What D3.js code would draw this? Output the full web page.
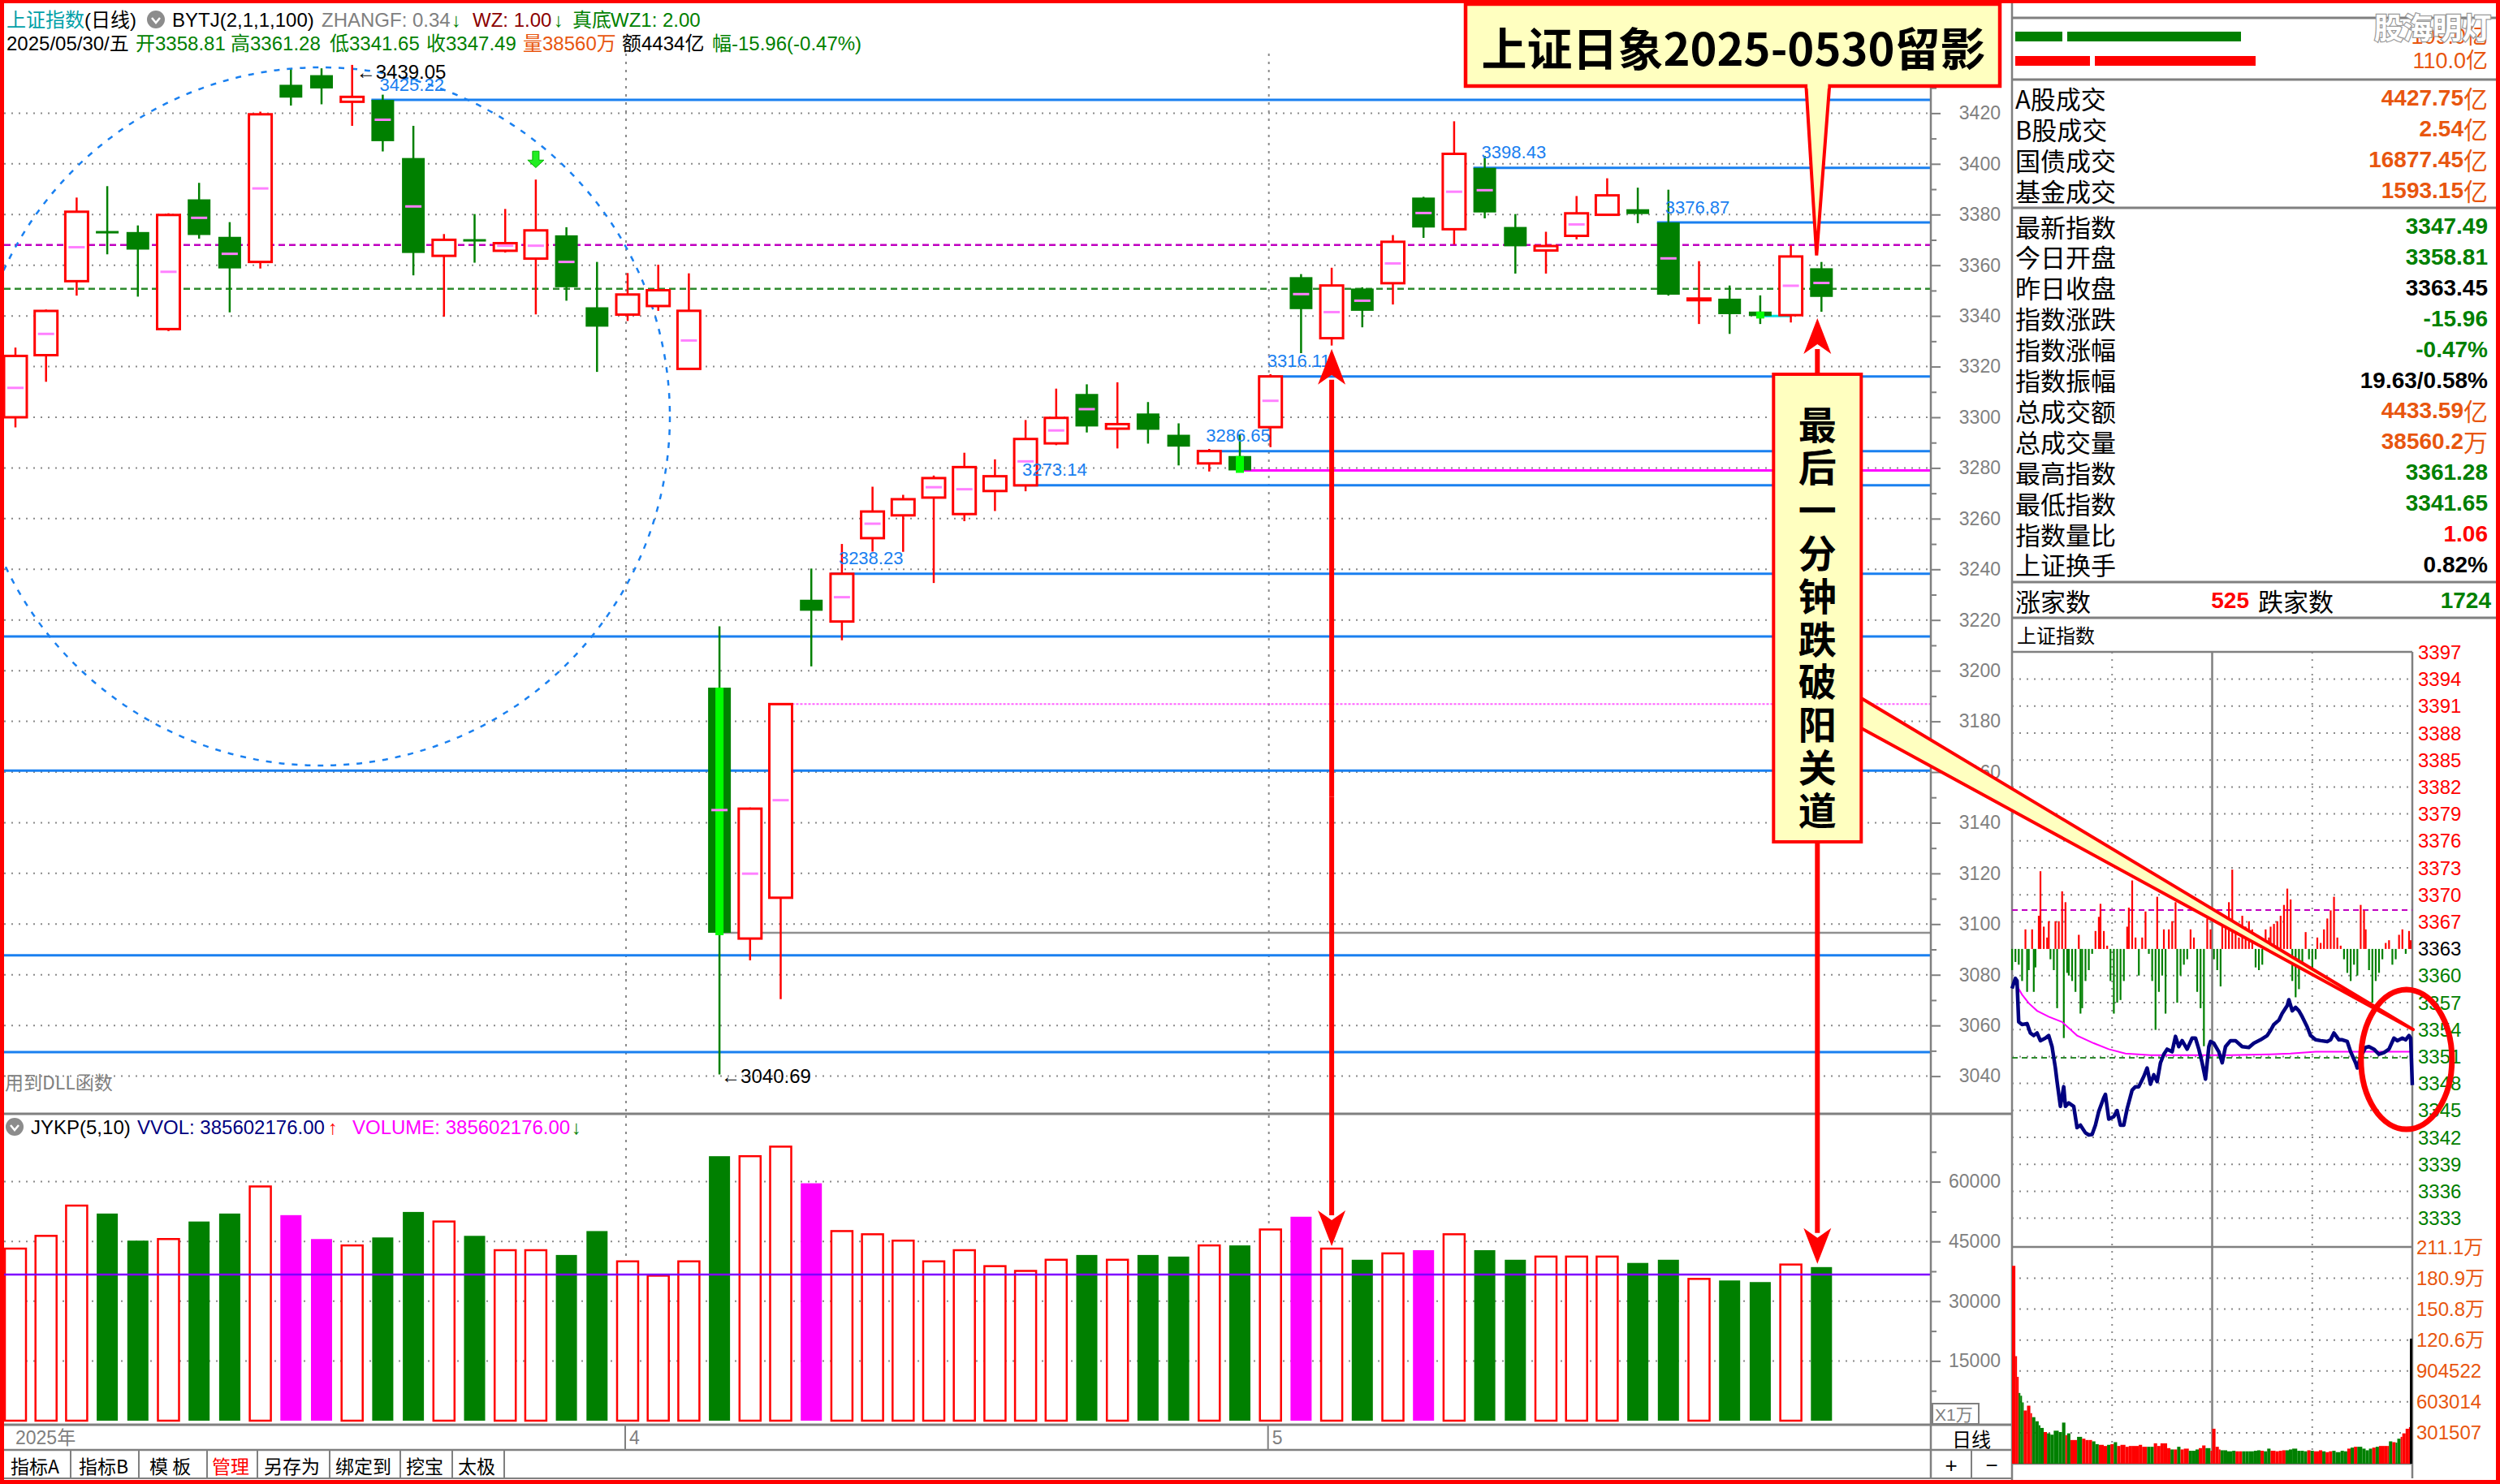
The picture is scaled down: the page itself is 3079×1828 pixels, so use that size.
<!DOCTYPE html>
<html><head><meta charset="utf-8">
<script src="https://cdn.jsdelivr.net/npm/d3@7/dist/d3.min.js"></script>
<style>html,body{margin:0;padding:0;background:#fff;overflow:hidden}svg{display:block}</style>
</head><body>
<svg id="chart" width="3079" height="1828" xmlns="http://www.w3.org/2000/svg"></svg>
<script>
// ================= DATA =================
const dates = ["03-04","03-05","03-06","03-07","03-10","03-11","03-12","03-13","03-14","03-17","03-18","03-19","03-20","03-21","03-24","03-25","03-26","03-27","03-28","03-31",
"04-01","04-02","04-03","04-07","04-08","04-09","04-10","04-11","04-14","04-15","04-16","04-17","04-18","04-21","04-22","04-23","04-24","04-25","04-28","04-29","04-30",
"05-06","05-07","05-08","05-09","05-12","05-13","05-14","05-15","05-16","05-19","05-20","05-21","05-22","05-23","05-26","05-27","05-28","05-29","05-30"];
const open  = [3300.0,3324.5,3353.7,3373.5,3373.1,3334.8,3386.0,3371.2,3361.3,3431.2,3435.0,3424.5,3425.22,3402.3,3363.7,3370.3,3365.7,3362.6,3371.8,3343.4,
3340.5,3343.9,3319.1,3193.3,3094.3,3110.4,3228.0,3219.4,3252.3,3261.3,3268.3,3261.8,3270.9,3273.14,3289.7,3309.2,3295.5,3301.5,3293.1,3281.8,3284.7,
3296.1,3355.3,3331.2,3350.8,3352.9,3386.7,3374.2,3398.43,3375.1,3365.8,3371.6,3379.9,3382.1,3376.87,3346.5,3346.8,3341.7,3340.3,3358.81];
const high  = [3327.5,3342.5,3386.7,3391.2,3375.7,3380.5,3392.5,3377.0,3420.6,3437.2,3437.7,3439.05,3427.3,3415.0,3372.3,3380.2,3382.2,3393.8,3375.0,3361.3,
3356.9,3360.2,3356.8,3217.5,3146.0,3187.0,3240.3,3250.0,3272.6,3269.4,3277.0,3286.0,3283.4,3298.9,3311.3,3313.0,3313.8,3306.0,3297.6,3287.5,3293.3,
3317.0,3356.5,3359.0,3351.3,3371.9,3387.0,3416.8,3403.1,3380.2,3373.2,3387.3,3394.3,3390.6,3389.8,3361.6,3352.0,3348.1,3367.8,3361.28];
const low   = [3296.0,3314.0,3348.0,3364.3,3347.6,3334.0,3370.5,3341.4,3358.7,3423.0,3423.5,3415.0,3404.9,3356.0,3339.7,3361.0,3365.0,3340.6,3346.0,3317.9,
3338.0,3342.0,3319.0,3040.69,3085.7,3070.4,3201.7,3212.0,3247.0,3246.9,3234.6,3259.0,3263.0,3270.8,3289.0,3294.0,3287.7,3289.6,3281.0,3278.6,3278.6,
3288.2,3325.3,3328.3,3335.5,3344.5,3370.8,3368.2,3378.5,3356.7,3356.7,3370.2,3379.9,3376.6,3348.0,3336.8,3332.9,3336.8,3337.4,3341.65];
const close = [3324.21,3341.96,3381.10,3372.55,3366.16,3379.83,3371.92,3358.73,3419.56,3426.13,3429.76,3426.43,3408.95,3364.83,3370.03,3369.98,3368.70,3373.75,3351.31,3335.75,
3348.44,3350.13,3342.01,3096.58,3145.55,3186.81,3223.64,3238.23,3262.81,3267.66,3276.00,3280.34,3276.73,3291.43,3299.76,3296.36,3297.29,3295.06,3288.41,3286.65,3279.03,
3316.11,3342.67,3352.00,3342.00,3369.24,3374.87,3403.95,3380.82,3367.46,3367.58,3380.48,3387.57,3380.19,3348.37,3346.84,3340.69,3339.93,3363.45,3347.49];
// volume, unit: 万 (x1万)
const volume = [43200,46400,54000,52000,45200,45600,50000,52000,58800,51600,45600,44000,46000,52400,50000,46400,42800,42800,41600,47600,
40000,36400,40000,66400,66400,68800,59600,47600,46800,45200,40000,42800,38800,37600,40400,41600,40400,41600,41200,44000,44000,
48000,51200,43200,40400,42000,42800,46800,42800,40400,41200,41200,41200,39600,40400,35600,35200,34800,39200,38560];
// average-price marks (null = not shown)
const avgPrice = [3311.6,3332.9,3367.1,null,null,3357.4,3378.7,3364.5,3390.3,null,null,null,3417.4,3383.2,null,null,3367.7,3367.7,3361.3,null,
null,null,3330.3,3145.0,3119.9,3148.9,null,3229.0,3258.0,null,3272.4,3271.6,null,3282.6,3294.8,3303.2,null,null,null,null,null,
3306.5,3348.6,3341.5,3346.0,3360.7,3380.6,3389.0,3389.6,null,null,3376.1,null,null,3362.7,null,null,null,3351.9,3353.0];
const volHighlight = [9,10,26,42,46];
const brightBody = [23,40,57];
const priceTicks = [3040,3060,3080,3100,3120,3140,3160,3180,3200,3220,3240,3260,3280,3300,3320,3340,3360,3380,3400,3420];
const volTicks = [15000,30000,45000,60000];
const monthStarts = [20,41];
const monthLabels = ["4","5"];
const supportLevels = [3425.22,3398.43,3376.87,3316.11,3286.65,3273.14,3238.23];
const supportFrom   = [12,48,54,41,39,33,27];
const bandLevels = [3213.5,3160.6,3087.7,3049.5];
const pivotHigh = 3368.0, pivotLow = 3350.7;
const volumeRefLine = 36700;

// intraday (minute, price)
const intradayLine = [[0,3358.81],[2,3360.0],[3,3359.7],[4,3354.9],[6,3354.6],[9,3354.7],[11,3353.6],[13,3353.3],[15,3353.6],[17,3352.7],[20,3353.0],[22,3353.3],[24,3352.0],[26,3349.5],[27,3347.9],[29,3345.0],[31,3347.3],[32,3345.0],[34,3345.4],[37,3345.0],[39,3342.5],[41,3342.8],[44,3341.9],[46,3341.65],[48,3341.7],[50,3342.8],[52,3344.4],[55,3346.0],[56,3346.4],[58,3343.5],[61,3343.8],[63,3344.5],[65,3342.8],[67,3342.8],[69,3344.7],[72,3346.9],[74,3347.3],[76,3347.3],[79,3348.5],[81,3349.5],[83,3347.6],[85,3348.7],[87,3347.9],[89,3350.1],[91,3351.1],[93,3351.7],[96,3351.4],[98,3353.2],[100,3352.0],[102,3352.7],[105,3351.7],[108,3353.0],[110,3353.0],[112,3351.7],[114,3350.1],[116,3348.2],[118,3352.0],[119,3352.6],[121,3352.4],[124,3351.4],[126,3350.1],[128,3352.0],[131,3352.7],[134,3352.7],[138,3352.0],[142,3351.9],[145,3352.4],[149,3352.8],[153,3353.3],[155,3353.9],[157,3354.6],[160,3355.1],[162,3355.9],[165,3356.8],[166,3357.5],[168,3356.2],[170,3356.6],[172,3356.2],[174,3355.5],[177,3354.3],[179,3353.3],[182,3352.8],[185,3352.7],[189,3352.6],[191,3352.8],[193,3353.6],[196,3352.8],[198,3352.8],[201,3352.6],[203,3351.4],[206,3350.1],[207,3349.5],[209,3350.8],[212,3351.9],[214,3352.0],[217,3351.7],[220,3351.1],[223,3351.3],[226,3351.7],[229,3353.0],[231,3352.7],[234,3353.0],[236,3352.8],[238,3353.3],[239,3353.0],[240,3347.49]];
const intradayAvg = [[3,3359.1],[6,3358.1],[10,3357.1],[15,3356.2],[22,3355.5],[30,3354.9],[39,3353.3],[49,3352.4],[58,3351.7],[68,3351.2],[83,3351.0],[107,3351.0],[131,3351.0],[155,3351.1],[167,3351.2],[182,3351.4],[203,3351.4],[227,3351.4],[240,3351.4]];
const prevClose = 3363.45;
const intradayTickLabels = ["3397","3394","3391","3388","3385","3382","3379","3376","3373","3370","3367","3363","3360","3357","3354","3351","3348","3345","3342","3339","3336","3333"];
// breadth bars (minute, signed strength)
const breadth = [[0,-39],[2,-24],[4,-29],[6,-59],[8,36],[9,-79],[10,-39],[12,36],[13,-79],[14,-34],[16,61],[17,143],[19,41],[21,21],[22,51],[23,-19],[25,-39],[26,51],[27,-109],[28,51],[30,106],[31,-164],[32,86],[33,-44],[34,-49],[36,-59],[38,-79],[40,26],[41,-119],[42,-109],[44,-59],[46,-39],[48,-9],[50,33],[52,59],[53,83],[55,33],[57,6],[59,-59],[61,-119],[63,-99],[65,-94],[67,-59],[69,41],[70,76],[72,126],[74,21],[76,-49],[78,21],[80,69],[82,-9],[84,-59],[86,-149],[87,96],[88,-79],[90,-49],[91,36],[92,-119],[94,36],[96,51],[98,86],[99,-99],[101,-49],[103,-29],[105,-19],[107,36],[109,21],[111,-79],[113,-109],[115,-179],[117,56],[119,36],[121,-19],[123,-39],[125,-69],[126,61],[128,46],[130,86],[132,146],[134,41],[136,21],[138,61],[140,41],[142,51],[144,36],[146,-34],[148,-39],[150,-29],[152,36],[154,21],[155,41],[157,46],[159,51],[161,61],[163,81],[165,111],[167,91],[168,-59],[170,-89],[172,-74],[174,-39],[176,31],[178,-19],[180,-39],[182,-19],[183,21],[185,11],[187,36],[189,56],[191,71],[193,96],[195,21],[197,6],[199,-19],[201,-44],[203,-59],[205,-29],[207,-49],[209,81],[211,71],[212,36],[214,-39],[216,-99],[218,-59],[220,-44],[222,-19],[224,11],[226,16],[228,-29],[230,-19],[232,26],[234,36],[236,-9],[238,33],[239,16]];
// intraday volume (minute, 万) and direction
const intradayVol = [[0,193],[2,104.9],[3,84.7],[4,69],[5,66.3],[6,59.8],[7,51.9],[9,56.6],[11,49.3],[12,45.4],[14,41.4],[16,37.5],[17,34.9],[19,30.9],[21,29.6],[23,28.3],[25,32.2],[28,30.9],[30,40.1],[32,27.8],[33,29.6],[35,23.1],[37,23.1],[39,26.2],[42,24.4],[44,23.1],[46,23.1],[48,21.8],[50,19.1],[52,18.4],[55,17.3],[57,18.4],[59,19.1],[61,21],[63,17.3],[65,18.4],[68,16.5],[70,17.3],[72,17.3],[74,17.3],[76,18.4],[78,16.5],[81,16.5],[83,16.5],[85,19.9],[87,17.3],[89,19.9],[91,19.9],[93,15.2],[95,13.9],[97,13.9],[99,16.5],[101,13.9],[103,14.7],[106,12.6],[108,12.6],[110,13.9],[112,15.2],[114,17.8],[116,15.2],[119,12.6],[120,34.1],[122,16.5],[124,13.9],[125,13.1],[127,13.1],[129,12.1],[132,12.6],[134,12.1],[136,12.1],[138,12.1],[140,12.1],[142,12.1],[145,12.6],[147,13.1],[149,12.6],[151,12.1],[153,14.7],[155,12.6],[158,12.1],[160,12.6],[162,13.1],[164,13.1],[166,13.9],[168,14.7],[171,12.6],[173,12.6],[175,12.1],[177,13.1],[179,12.6],[181,12.1],[184,13.1],[186,12.1],[188,11.3],[190,12.1],[192,12.6],[194,11.3],[197,12.6],[199,12.1],[201,14.7],[203,15.7],[205,16.5],[207,16.5],[210,14.7],[212,13.1],[214,14.7],[216,15.7],[218,16.5],[220,17.3],[223,17.3],[225,17.3],[226,21.8],[228,21],[230,20.5],[231,24.4],[233,26.2],[234,29.6],[236,34.1],[238,35.7],[239,4.7]];
const intradayVolDir = "rrrgggrrrggggrgggggrgrrgrrrggrrgrgrrrrrrrrggrrrrrgrgrrgggrrgrrrrggggrrgggggrggrrrrggggggrgrrgrrggggrgrggggrgrrrgrgg" + "r";
const closingAuctionVol = 122;
const intradayVolTicks = [211.1,180.9,150.8,120.6,90.4522,60.3014,30.1507];
const intradayVolTickLabels = ["211.1万","180.9万","150.8万","120.6万","904522","603014","301507"];

const statLabels1 = ["A股成交","B股成交","国债成交","基金成交"];
const statValues1 = ["4427.75亿","2.54亿","16877.45亿","1593.15亿"];
const statLabels2 = ["最新指数","今日开盘","昨日收盘","指数涨跌","指数涨幅","指数振幅","总成交额","总成交量","最高指数","最低指数","指数量比","上证换手"];
const statValues2 = ["3347.49","3358.81","3363.45","-15.96","-0.47%","19.63/0.58%","4433.59亿","38560.2万","3361.28","3341.65","1.06","0.82%"];
const upCount = "525", downCount = "1724";

// ================= DRAW =================
const svg = d3.select('#chart');
const SANS = "'Liberation Sans', Arial, 'Noto Sans CJK SC', sans-serif";
const CJK = "'Noto Sans CJK SC', 'Liberation Sans', sans-serif";
const RED='#ff0000', GREEN='#008000', MAG='#ff00ff', BLUE='#1a80f0', GRAY='#808080', ORANGE='#e8560f', YEL='#ffffc0';
const AX = 2378, PR = 2478, RB = 3074;

svg.append('rect').attr('width',3079).attr('height',1828).attr('fill','#fff');
const defs = svg.append('defs');
defs.append('clipPath').attr('id','clipMain').append('rect').attr('x',5).attr('y',66).attr('width',AX-5).attr('height',1371-66);
defs.append('clipPath').attr('id','clipVol').append('rect').attr('x',5).attr('y',1374).attr('width',AX-5).attr('height',1754-1374);

const x = d3.scalePoint().domain(dates).range([19, 19+59*37.7]);
const y = d3.scaleLinear().domain([3040,3420]).range([1325.6,139.4]);
const yv = d3.scaleLinear().domain([0,60000]).range([1750,1455.6]);
const BW = 28;
const ohlc = dates.map((d,i)=>({d,i,o:open[i],h:high[i],l:low[i],c:close[i],v:volume[i],a:avgPrice[i]}));
const isUp = d=>d.c>=d.o;

function hline(g, y0, x0, x1, color, w, dash){
  const l = g.append('line').attr('x1',x0).attr('x2',x1).attr('y1',y0).attr('y2',y0).attr('stroke',color).attr('stroke-width',w);
  if(dash) l.attr('stroke-dasharray',dash);
  return l;
}
function vline(g, x0, y0, y1, color, w, dash){
  const l = g.append('line').attr('x1',x0).attr('x2',x0).attr('y1',y0).attr('y2',y1).attr('stroke',color).attr('stroke-width',w);
  if(dash) l.attr('stroke-dasharray',dash);
  return l;
}
function txt(g, s, x0, y0, size, color, family, anchor, weight){
  return g.append('text').attr('x',x0).attr('y',y0).attr('font-size',size).attr('fill',color)
    .attr('font-family',family||SANS).attr('text-anchor',anchor||'start').attr('dominant-baseline','central')
    .attr('font-weight',weight||'normal').text(s);
}

// ---- main price panel ----
const gMain = svg.append('g').attr('clip-path','url(#clipMain)');
gMain.selectAll('line.grid').data(priceTicks).join('line').attr('class','grid')
  .attr('x1',5).attr('x2',AX).attr('y1',d=>y(d)).attr('y2',d=>y(d))
  .attr('stroke','#8a8a8a').attr('stroke-width',2).attr('stroke-dasharray','2,7');
monthStarts.forEach(i=>vline(gMain, x(dates[i])-2, 66, 1371, '#8a8a8a', 2, '3,7'));
hline(gMain, y(pivotHigh), 5, AX, '#c000c0', 2.5, '8,5');
hline(gMain, y(pivotLow), 5, AX, '#2e8b2e', 2.5, '8,5');
bandLevels.forEach(v=>hline(gMain, y(v), 5, AX, BLUE, 3));
supportLevels.forEach((v,k)=>hline(gMain, y(v), x(dates[supportFrom[k]])-BW/2, AX, BLUE, 3));
hline(gMain, y(close[40]), x(dates[40]), AX, MAG, 3);
hline(gMain, y(close[25]), x(dates[25])+BW/2, AX, '#ff60ff', 2, '3,2');
hline(gMain, y(close[23]), x(dates[23]), AX, '#909090', 2.5);
hline(gMain, y(close[57]), x(dates[57]), x(dates[58]), '#00e0e0', 3);
// dashed circle
gMain.append('ellipse').attr('cx',395).attr('cy',513).attr('rx',430).attr('ry',430)
  .attr('fill','none').attr('stroke',BLUE).attr('stroke-width',2.5).attr('stroke-dasharray','7,9');

// candles
const gC = gMain.append('g');
gC.selectAll('line.wick').data(ohlc).join('line').attr('class','wick')
  .attr('x1',d=>x(d.d)).attr('x2',d=>x(d.d)).attr('y1',d=>y(d.h)).attr('y2',d=>y(d.l))
  .attr('stroke',d=>isUp(d)?RED:GREEN).attr('stroke-width',2.5);
gC.selectAll('rect.body').data(ohlc).join('rect').attr('class','body')
  .attr('x',d=>x(d.d)-BW/2).attr('width',BW)
  .attr('y',d=>y(Math.max(d.o,d.c))).attr('height',d=>Math.max(isUp(d)?2:3, Math.abs(y(d.o)-y(d.c))))
  .attr('fill',d=>isUp(d)?'#fff':GREEN).attr('stroke',d=>isUp(d)?RED:GREEN).attr('stroke-width',d=>isUp(d)?3:0);
gC.selectAll('rect.bright').data(ohlc.filter(d=>brightBody.includes(d.i))).join('rect').attr('class','bright')
  .attr('x',d=>x(d.d)-5).attr('width',10)
  .attr('y',d=>y(Math.max(d.o,d.c))).attr('height',d=>Math.abs(y(d.o)-y(d.c))+3).attr('fill','#00ff00');
gC.selectAll('line.avg').data(ohlc.filter(d=>d.a!=null)).join('line').attr('class','avg')
  .attr('x1',d=>x(d.d)-10).attr('x2',d=>x(d.d)+10).attr('y1',d=>y(d.a)).attr('y2',d=>y(d.a))
  .attr('stroke','#ff80ff').attr('stroke-width',3);
// support labels drawn above candles
supportLevels.forEach((v,k)=>txt(gMain, v.toFixed(2), x(dates[supportFrom[k]])-4, y(v)-19, 22, BLUE));
// high/low labels
txt(gMain, '←3439.05', x(dates[11])+5, y(high[11])+9, 24, '#000');
txt(gMain, '←3040.69', x(dates[23])+2, y(low[23])+2, 24, '#000');
// green down arrow marker
(function(){
  const cx = x(dates[17]), top = y(3405), bot = y(3398.5);
  gMain.append('path').attr('d',`M${cx-4},${top} L${cx+4},${top} L${cx+4},${top+11} L${cx+10},${top+11} L${cx},${bot} L${cx-10},${top+11} L${cx-4},${top+11} Z`)
    .attr('fill','#22ee22').attr('stroke','#00b000').attr('stroke-width',1);
})();
txt(svg, '用到DLL函数', 6, 1332, 23, GRAY, CJK);

// ---- volume panel ----
const gVol = svg.append('g').attr('clip-path','url(#clipVol)');
gVol.selectAll('line.vgrid').data(volTicks).join('line').attr('class','vgrid')
  .attr('x1',5).attr('x2',AX).attr('y1',d=>yv(d)).attr('y2',d=>yv(d))
  .attr('stroke','#8a8a8a').attr('stroke-width',2).attr('stroke-dasharray','2,7');
monthStarts.forEach(i=>vline(gVol, x(dates[i])-2, 1374, 1754, '#8a8a8a', 2, '3,7'));
gVol.selectAll('rect.vbar').data(ohlc).join('rect').attr('class','vbar')
  .attr('x',d=>x(d.d)-BW/2+1).attr('width',BW-2)
  .attr('y',d=>yv(d.v)).attr('height',d=>yv(0)-yv(d.v))
  .attr('fill',d=>volHighlight.includes(d.i)?MAG:(isUp(d)?'#fff':GREEN))
  .attr('stroke',d=>volHighlight.includes(d.i)?MAG:(isUp(d)?RED:GREEN))
  .attr('stroke-width',d=>isUp(d)&&!volHighlight.includes(d.i)?2.5:0);
hline(gVol, yv(volumeRefLine), 5, AX, '#8000ff', 2.5);

// panel header texts
function icon(g, cx, cy){
  g.append('circle').attr('cx',cx).attr('cy',cy).attr('r',11).attr('fill','#8c8c8c');
  g.append('path').attr('d',`M${cx-5},${cy-2} L${cx},${cy+4} L${cx+5},${cy-2}`).attr('fill','none').attr('stroke','#fff').attr('stroke-width',2.5);
}
const head1 = [['上证指数','#00a0a8',8],['(日线)','#000',104],['BYTJ(2,1,1,100)','#000',212],['ZHANGF: 0.34','#808080',396],['↓',GREEN,556],['WZ: 1.00','#8b0000',582],['↓',GREEN,682],['真底',GREEN,705],['WZ1: 2.00',GREEN,752]];
head1.forEach(h=>txt(svg, h[0], h[2], 24, 24, h[1]));
icon(svg, 192, 24);
const head2 = [['2025/05/30/五','#000',8],['开3358.81',GREEN,167],['高3361.28',GREEN,284],['低3341.65',GREEN,406],['收3347.49',GREEN,525],['量38560万',ORANGE,644],['额4434亿','#000',766],['幅-15.96(-0.47%)',GREEN,877]];
head2.forEach(h=>txt(svg, h[0], h[2], 53, 24, h[1]));
icon(svg, 18, 1388);
const head3 = [['JYKP(5,10)','#000',38],['VVOL: 385602176.00','#000080',169],['↑',RED,404],['VOLUME: 385602176.00',MAG,434],['↓',GREEN,704]];
head3.forEach(h=>txt(svg, h[0], h[2], 1388, 24, h[1]));

// ---- axes ----
const gAx = svg.append('g').attr('transform',`translate(${AX},0)`)
  .call(d3.axisRight(y).tickValues(priceTicks).tickSize(12).tickPadding(4).tickFormat(d3.format('d')));
gAx.select('.domain').remove();
gAx.selectAll('line').attr('stroke',GRAY).attr('stroke-width',2);
gAx.selectAll('text').attr('x',86).attr('text-anchor','end').attr('fill',GRAY).attr('font-size',23).attr('font-family',SANS);
const gAxm = svg.append('g').attr('transform',`translate(${AX},0)`)
  .call(d3.axisRight(y).tickValues(priceTicks.map(d=>d+10)).tickSize(7).tickFormat(''));
gAxm.select('.domain').remove(); gAxm.selectAll('line').attr('stroke',GRAY).attr('stroke-width',2);
const gVax = svg.append('g').attr('transform',`translate(${AX},0)`)
  .call(d3.axisRight(yv).tickValues(volTicks).tickSize(12).tickFormat(d3.format('d')));
gVax.select('.domain').remove();
gVax.selectAll('line').attr('stroke',GRAY).attr('stroke-width',2);
gVax.selectAll('text').attr('x',86).attr('text-anchor','end').attr('fill',GRAY).attr('font-size',23).attr('font-family',SANS);
const gVaxm = svg.append('g').attr('transform',`translate(${AX},0)`)
  .call(d3.axisRight(yv).tickValues([7500,22500,37500,52500,67500]).tickSize(7).tickFormat(''));
gVaxm.select('.domain').remove(); gVaxm.selectAll('line').attr('stroke',GRAY).attr('stroke-width',2);

// frame lines
vline(svg, AX, 100, 1822, GRAY, 2.5);
vline(svg, PR, 0, 1828, GRAY, 2.5);
hline(svg, 1372, 0, PR, GRAY, 3);
hline(svg, 1755, 0, PR, GRAY, 3);
hline(svg, 1786, 0, PR, GRAY, 2.5);
// X1万 box
svg.append('rect').attr('x',2380).attr('y',1729).attr('width',57).attr('height',25).attr('fill','none').attr('stroke',GRAY).attr('stroke-width',2);
txt(svg, 'X1万', 2383, 1742, 21, GRAY);
// date row
txt(svg, '2025年', 19, 1771, 23, GRAY);
monthStarts.forEach((i,k)=>{ vline(svg, x(dates[i])-3, 1756, 1786, GRAY, 2); txt(svg, monthLabels[k], x(dates[i])+2, 1771, 23, GRAY); });
txt(svg, '日线', 2428, 1771, 24, '#000', CJK, 'middle');
txt(svg, '+', 2403, 1805, 26, '#000', SANS, 'middle');
txt(svg, '−', 2453, 1805, 26, '#000', SANS, 'middle');
vline(svg, 2428, 1786, 1822, GRAY, 2);
// tabs
const tabs = [['指标A',13,'#000'],['指标B',97,'#000'],['模 板',184,'#000'],['管理',261,RED],['另存为',325,'#000'],['绑定到',413,'#000'],['挖宝',500,'#000'],['太极',564,'#000']];
tabs.forEach(t=>txt(svg, t[0], t[1], 1805, 23, t[2], CJK));
[87,171,255,317,406,493,557,621].forEach(xx=>vline(svg, xx, 1787, 1822, GRAY, 2));
hline(svg, 1821, 0, PR, GRAY, 2);

// ---- right info panel ----
const gR = svg.append('g');
[22,98,256,717,761].forEach(yy=>hline(gR, yy, PR, RB, GRAY, 3));
gR.append('rect').attr('x',2482).attr('y',39).attr('width',58).attr('height',12).attr('fill',GREEN);
gR.append('rect').attr('x',2546).attr('y',39).attr('width',214).attr('height',12).attr('fill',GREEN);
gR.append('rect').attr('x',2482).attr('y',69).attr('width',92).attr('height',12).attr('fill',RED);
gR.append('rect').attr('x',2580).attr('y',69).attr('width',198).attr('height',12).attr('fill',RED);
txt(gR, '109.0亿', 3064, 45, 27, ORANGE, SANS, 'end');
txt(gR, '110.0亿', 3064, 75, 27, ORANGE, SANS, 'end');
gR.append('text').attr('x',2996).attr('y',48).attr('text-anchor','middle').attr('font-size',36).attr('font-weight','bold')
  .attr('font-family',CJK).attr('fill','#fff').attr('stroke','#9a9a9a').attr('stroke-width',2.5).attr('paint-order','stroke').text('股海明灯');
function valueText(g, s, yy, color){
  const m = s.match(/^(.*?)([亿万]?)$/);
  const t = g.append('text').attr('x',3064).attr('y',yy).attr('text-anchor','end').attr('dominant-baseline','central').attr('fill',color).attr('font-size',28);
  t.append('tspan').attr('font-family',SANS).attr('font-weight','bold').text(m[1]);
  if(m[2]) t.append('tspan').attr('font-family',CJK).attr('font-size',30).text(m[2]);
}
statLabels1.forEach((s,k)=>{ txt(gR, s, 2482, 120+k*38, 31, '#000', CJK); valueText(gR, statValues1[k], 120+k*38, ORANGE); });
const c2 = [GREEN,GREEN,'#000',GREEN,GREEN,'#000',ORANGE,ORANGE,GREEN,GREEN,RED,'#000'];
statLabels2.forEach((s,k)=>{ txt(gR, s, 2482, 278+k*37.9, 31, '#000', CJK); valueText(gR, statValues2[k], 278+k*37.9, c2[k]); });
txt(gR, '涨家数', 2482, 739, 31, '#000', CJK);
txt(gR, upCount, 2770, 739, 28, RED, SANS, 'end', 'bold');
txt(gR, '跌家数', 2781, 739, 31, '#000', CJK);
txt(gR, downCount, 3068, 739, 28, GREEN, SANS, 'end', 'bold');
txt(gR, '上证指数', 2484, 781, 24, '#000', CJK);

// ---- intraday chart ----
const gI = svg.append('g');
const xi = d3.scaleLinear().domain([0,240]).range([2478,2971]);
const yi = d3.scaleLinear().domain([prevClose-30, prevClose+30]).range([1168.9+30*10.51, 1168.9-30*10.51]);
const yLab = d3.scaleLinear().domain([0,21]).range([803.4,1500.6]);
const yiv = d3.scaleLinear().domain([0,211.1]).range([1803,1536.4]);
const IT = 803, IM = 1536, IB = 1803;
intradayTickLabels.forEach((s,k)=>{ if(k>0 && k!==11) hline(gI, yLab(k), xi(0), xi(240), '#8a8a8a', 2, '2,7'); });
intradayVolTicks.forEach((v,k)=>{ if(k>0) hline(gI, yiv(v), xi(0), xi(240), '#8a8a8a', 2, '2,7'); });
[60,180].forEach(m=>vline(gI, xi(m), IT, IB, '#8a8a8a', 2, '2,7'));
vline(gI, xi(120), IT, IB, GRAY, 2.5);
hline(gI, IT, xi(0), xi(240), GRAY, 2.5);
hline(gI, IM, xi(0), xi(240), GRAY, 2.5);
hline(gI, IB, xi(0), xi(240), GRAY, 2.5);
vline(gI, xi(240), IT, IB+18, GRAY, 2.5);
hline(gI, yi(pivotHigh), xi(0), xi(240), '#c000c0', 2, '7,5');
gI.selectAll('rect.br').data(breadth).join('rect').attr('class','br')
  .attr('x',d=>xi(d[0])-1).attr('width',2.2)
  .attr('y',d=>d[1]>0? yi(prevClose)-d[1]/1.494 : yi(prevClose))
  .attr('height',d=>Math.abs(d[1])/1.494)
  .attr('fill',d=>d[1]>0?RED:GREEN);
hline(gI, yi(pivotLow), xi(0), xi(240), '#2e8b2e', 2, '7,5');
gI.append('path').datum(intradayAvg).attr('d', d3.line().x(d=>xi(d[0])).y(d=>yi(d[1])))
  .attr('fill','none').attr('stroke',MAG).attr('stroke-width',2);
gI.append('path').datum(intradayLine).attr('d', d3.line().x(d=>xi(d[0])).y(d=>yi(d[1])))
  .attr('fill','none').attr('stroke','#000080').attr('stroke-width',4.5).attr('stroke-linejoin','round');
gI.selectAll('rect.iv').data(intradayVol).join('rect').attr('class','iv')
  .attr('x',d=>xi(d[0])).attr('width',(d,k)=>Math.max(2, (k<intradayVol.length-1? xi(intradayVol[k+1][0])-xi(d[0]) : 2)))
  .attr('y',d=>yiv(d[1])).attr('height',d=>IB-yiv(d[1]))
  .attr('fill',(d,k)=>intradayVolDir[k]==='g'?GREEN:RED);
gI.append('rect').attr('x',xi(240)-3).attr('width',3).attr('y',yiv(closingAuctionVol)).attr('height',IB-yiv(closingAuctionVol)).attr('fill','#000');
intradayTickLabels.forEach((s,k)=>txt(gI, s, 2978, yLab(k), 24, k<11?RED:(k===11?'#000':GREEN)));
intradayVolTicks.forEach((v,k)=>txt(gI, intradayVolTickLabels[k], 2976, yiv(v), 24, ORANGE));

// ---- annotations ----
const gA = svg.append('g');
const arrowX = x(dates[59]) - 5;
const boxL = arrowX-54, boxR = arrowX+54, boxT = 461, boxB = 1037;
// diagonal wedge to the red circle
gA.append('path').attr('d',`M${boxR},${860} L${xi(240.5)},${yi(3354.0)} L${boxR},${897} Z`)
  .attr('fill',YEL).attr('stroke',RED).attr('stroke-width',4).attr('stroke-linejoin','round');
gA.append('ellipse').attr('cx',xi(236.5)).attr('cy',yi(3350.5)).attr('rx',56).attr('ry',86)
  .attr('fill','none').attr('stroke',RED).attr('stroke-width',7);
function arrow(xx, yFrom, yTip){
  const dir = yTip<yFrom ? -1 : 1, hl = 44, hw = 17;
  gA.append('line').attr('x1',xx).attr('x2',xx).attr('y1',yFrom).attr('y2',yTip - dir*(hl-6)).attr('stroke',RED).attr('stroke-width',6);
  gA.append('path').attr('d',`M${xx},${yTip} L${xx-hw},${yTip-dir*hl} L${xx},${yTip-dir*(hl-12)} L${xx+hw},${yTip-dir*hl} Z`).attr('fill',RED);
}
arrow(arrowX, boxT, y(low[59])+8);
arrow(arrowX, boxB, yv(volume[59])-4);
const cX = x(dates[43]);
const mid = (y(low[43]) + yv(volume[43]))/2;
arrow(cX, mid, y(low[43])+4);
arrow(cX, mid, yv(volume[43])-3);
// vertical note box
gA.append('rect').attr('x',boxL).attr('y',boxT).attr('width',boxR-boxL).attr('height',boxB-boxT)
  .attr('fill',YEL).attr('stroke',RED).attr('stroke-width',4);
Array.from('最后一分钟跌破阳关道').forEach((ch,k)=>
  txt(gA, ch, arrowX, 520+k*52.8, 47, '#000', CJK, 'middle', 'bold'));
// top callout
const tipX = x(dates[59])-6, tipY = y(high[59])-8;
gA.append('rect').attr('x',1805).attr('y',5).attr('width',2463-1805).attr('height',101)
  .attr('fill',YEL).attr('stroke',RED).attr('stroke-width',4.5);
gA.append('path').attr('d',`M${tipX-13},104 L${tipX},${tipY} L${tipX+16},104`).attr('fill',YEL).attr('stroke',RED).attr('stroke-width',4);
gA.append('rect').attr('x',tipX-11).attr('y',100).attr('width',25).attr('height',9).attr('fill',YEL);
txt(gA, '上证日象2025-0530留影', 2135, 56, 56, '#000', CJK, 'middle', 'bold');

// ---- outer red border ----
svg.append('rect').attr('x',0).attr('y',0).attr('width',3079).attr('height',4).attr('fill',RED);
svg.append('rect').attr('x',0).attr('y',1823).attr('width',3079).attr('height',5).attr('fill',RED);
svg.append('rect').attr('x',0).attr('y',0).attr('width',5).attr('height',1828).attr('fill',RED);
svg.append('rect').attr('x',3074).attr('y',0).attr('width',5).attr('height',1828).attr('fill',RED);
</script></body></html>
